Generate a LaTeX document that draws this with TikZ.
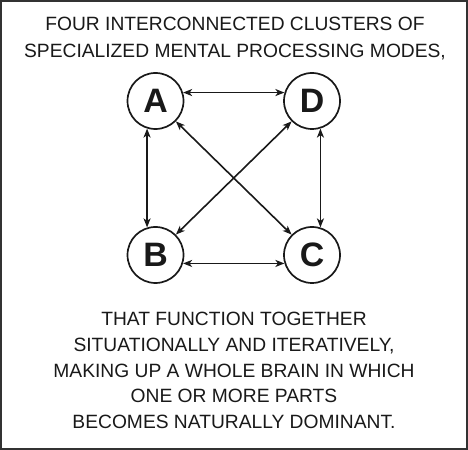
\documentclass[tikz,border=0pt]{standalone}
\usepackage{fontspec}
\setmainfont{Liberation Sans}
\usetikzlibrary{arrows.meta}

\definecolor{brFrame}{RGB}{50,50,50}
\definecolor{brInk}{RGB}{25,25,25}

\begin{document}
\begin{tikzpicture}[x=1bp, y=1bp,
    mode/.style={circle, draw=brInk, line width=1.7bp, minimum size=56bp,
        inner sep=0pt, font=\fontsize{34}{34}\selectfont\bfseries, text=brInk},
    link/.style={draw=brInk, line width=1.6bp,
        {Stealth[length=9bp,width=7bp,inset=2.5bp]}-{Stealth[length=9bp,width=7bp,inset=2.5bp]}},
    caption/.style={align=center, text=brInk}]
%% ── Frame ────────────────────────────────────────────────────────────────
\draw[draw=brFrame, line width=2bp, fill=white] (1,1) rectangle (467,449);
\useasboundingbox (0,0) rectangle (468,450);
%% ── Top text ─────────────────────────────────────────────────────────────
\node[caption, font=\fontsize{19.3}{27}\selectfont] (intro) at (235,411.5)
    {FOUR INTERCONNECTED CLUSTERS OF\\SPECIALIZED MENTAL PROCESSING MODES,};
%% ── Four modes ───────────────────────────────────────────────────────────
\node[mode] (A) at (155.5,349) {A};
\node[mode] (D) at (312,349) {D};
\node[mode] (B) at (155.5,195) {B};
\node[mode] (C) at (312,195) {C};
%% ── Links ────────────────────────────────────────────────────────────────
\draw[link] (A.17) -- (D.163);
\draw[link] (B.-17) -- (C.197);
\draw[link] (A.253) -- (B.107);
\draw[link] (D.287) -- (C.73);
\draw[link] (A.-45) -- (C.135);
\draw[link] (D.225) -- (B.45);
%% ── Bottom text ──────────────────────────────────────────────────────────
\node[caption, font=\fontsize{19.3}{25.8}\selectfont] (outro) at (234,79.5)
    {THAT FUNCTION TOGETHER\\SITUATIONALLY AND ITERATIVELY,\\
     MAKING UP A WHOLE BRAIN IN WHICH\\ONE OR MORE PARTS\\
     BECOMES NATURALLY DOMINANT.};
\end{tikzpicture}
\end{document}
